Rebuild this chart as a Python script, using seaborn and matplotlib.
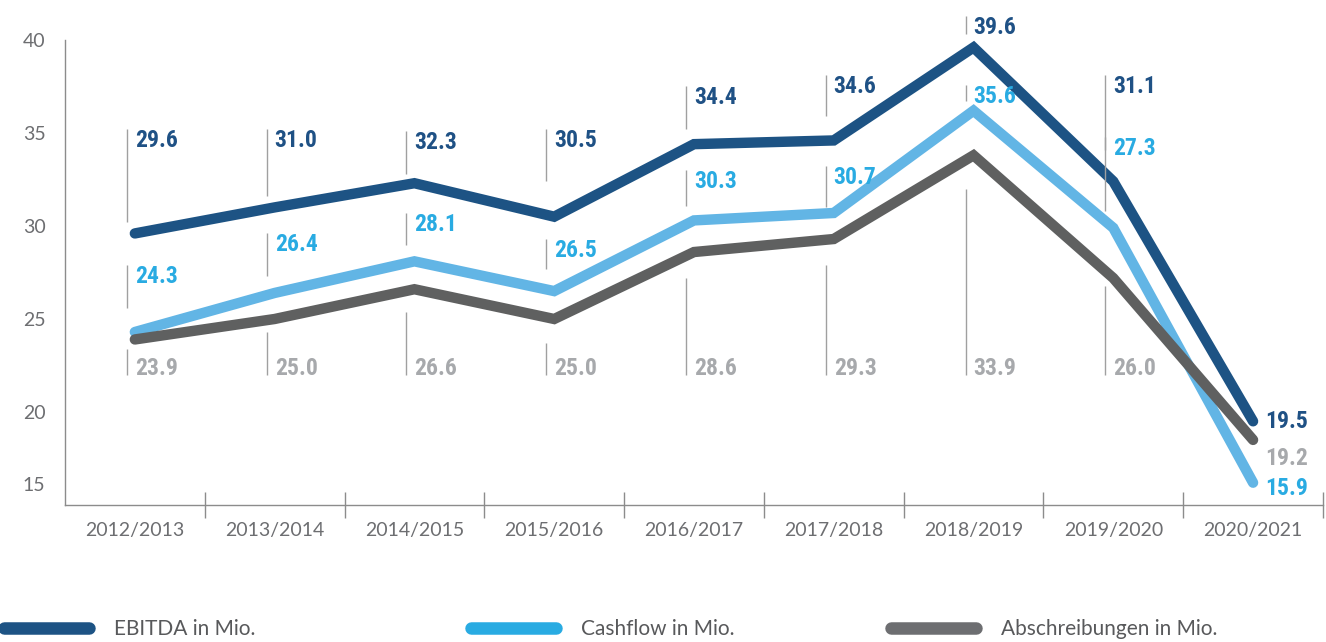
"""EBITDA, Cashflow und Abschreibungen 2012/2013 - 2020/2021."""

import matplotlib.pyplot as plt
import matplotlib.transforms as mtransforms
import pandas as pd
import seaborn as sns
from matplotlib import font_manager
from matplotlib.lines import Line2D

# --- data -------------------------------------------------------------------
years = ["2012/2013", "2013/2014", "2014/2015", "2015/2016", "2016/2017",
         "2017/2018", "2018/2019", "2019/2020", "2020/2021"]
ebitda = [29.6, 31.0, 32.3, 30.5, 34.4, 34.6, 39.6, 32.4, 19.5]
cashflow = [24.3, 26.4, 28.1, 26.5, 30.3, 30.7, 36.2, 29.9, 16.2]
abschreibungen = [23.9, 25.0, 26.6, 25.0, 28.6, 29.3, 33.8, 27.2, 18.5]

ebitda_labels = ["29.6", "31.0", "32.3", "30.5", "34.4", "34.6", "39.6", "31.1", "19.5"]
cashflow_labels = ["24.3", "26.4", "28.1", "26.5", "30.3", "30.7", "35.6", "27.3", "15.9"]
abschreibungen_labels = ["23.9", "25.0", "26.6", "25.0", "28.6", "29.3", "33.9", "26.0", "19.2"]

series_names = ["EBITDA in Mio.", "Cashflow in Mio.", "Abschreibungen in Mio."]
y_ticks = [15, 20, 25, 30, 35, 40]

# --- layout of the value labels (guide line top/bottom, data units) ----------
ebitda_guide_top = [35.2, 35.2, 35.1, 35.2, 37.5, 38.1, 41.3, 38.1, 20.1]
ebitda_guide_bottom = [30.2, 31.6, 32.8, 32.4, 35.2, 35.9, 40.3, 34.1, None]
cashflow_guide_top = [27.9, 29.6, 30.7, 29.3, 33.0, 33.2, 37.6, 34.8, 16.5]
cashflow_guide_bottom = [25.6, 27.3, 29.0, 27.7, 31.1, 31.0, 36.7, 30.8, None]
abschr_guide_top = [23.4, 24.3, 25.4, 23.7, 27.2, 27.9, 32.0, 26.8, None]
abschr_guide_bottom = [22.0, 22.0, 22.0, 22.0, 22.0, 22.0, 22.0, 22.0, 18.1]

LINE_COLORS = ["#1d5384", "#62b5e5", "#5f6060"]
LABEL_COLORS = ["#1f5185", "#29abe2", "#a7a9ac"]
LEGEND_COLORS = ["#1d5384", "#29abe2", "#6d6e71"]
AXIS_GREY = "#8c8c8c"
TEXT_GREY = "#6d6e71"
GUIDE_GREY = "#a0a0a0"

sns.set_theme(style="white")
plt.rcParams["font.family"] = ["Lato", "DejaVu Sans"]

# pick a condensed face for the value labels if one is installed
installed = {f.name for f in font_manager.fontManager.ttflist}
condensed = [n for n in ("Liberation Sans Narrow", "DejaVu Sans Condensed",
                         "Roboto Condensed", "Open Sans Condensed") if n in installed]
VALUE_FONT = condensed[:1] + ["DejaVu Sans"]
VALUE_SIZE = 17 if condensed else 15

df = pd.DataFrame({
    "Jahr": years * 3,
    "Wert": ebitda + cashflow + abschreibungen,
    "Serie": [series_names[0]] * 9 + [series_names[1]] * 9 + [series_names[2]] * 9,
})

fig = plt.figure(figsize=(13.26, 6.42), dpi=100)
ax = fig.add_axes([0.049, 0.2134, 0.9487, 0.7243])

sns.lineplot(data=df, x="Jahr", y="Wert", hue="Serie", palette=LINE_COLORS,
             linewidth=7.5, sort=False, legend=False, ax=ax)
for line in ax.get_lines():
    line.set_solid_capstyle("round")
    line.set_solid_joinstyle("miter")
    line.set_clip_on(False)

ax.set_xlim(-0.5, len(years) - 0.5)
ax.set_ylim(15, 40)
ax.set_xlabel("")
ax.set_ylabel("")

# spines
for side in ("top", "right"):
    ax.spines[side].set_visible(False)
for side in ("left", "bottom"):
    ax.spines[side].set_color(AXIS_GREY)
    ax.spines[side].set_linewidth(1.0)

# y axis: inward ticks, "15" label lifted above the baseline
ax.set_yticks(y_ticks)
ax.set_yticklabels([""] + [str(t) for t in y_ticks[1:]])
ax.tick_params(axis="y", direction="in", length=22, width=1.0, color=AXIS_GREY,
               pad=14, labelsize=14, labelcolor=TEXT_GREY)
ax.annotate("15", xy=(0, 15), xycoords=("axes fraction", "data"), xytext=(-20, 19),
            textcoords="offset pixels", ha="right", va="center",
            fontsize=14, color=TEXT_GREY)

# x axis: labels centred, separators between categories
ax.set_xticks(range(len(years)))
ax.set_xticklabels(years)
ax.set_xticks([i + 0.5 for i in range(len(years))], minor=True)
ax.tick_params(axis="x", which="major", length=0, pad=12, labelsize=14, labelcolor=TEXT_GREY)
ax.tick_params(axis="x", which="minor", direction="inout", length=19, width=1.0,
               color=AXIS_GREY, bottom=True)

# value labels with thin guide lines
guide_shift = mtransforms.ScaledTranslation(-8 / 100, 0, fig.dpi_scale_trans)
text_shift = mtransforms.ScaledTranslation(0, 0, fig.dpi_scale_trans)
end_shift = mtransforms.ScaledTranslation(12 / 100, 0, fig.dpi_scale_trans)
label_sets = [
    (ebitda_labels, ebitda_guide_top, ebitda_guide_bottom, "top"),
    (cashflow_labels, cashflow_guide_top, cashflow_guide_bottom, "top"),
    (abschreibungen_labels, abschr_guide_top, abschr_guide_bottom, "bottom"),
]
for (labels, tops, bottoms, anchor), color in zip(label_sets, LABEL_COLORS):
    for i, (txt, top, bottom) in enumerate(zip(labels, tops, bottoms)):
        last = i == len(years) - 1
        if not last:
            ax.vlines(i, bottom, top, colors=GUIDE_GREY, linewidth=1.0,
                      transform=ax.transData + guide_shift, clip_on=False)
        if last:
            y = top if top is not None else bottom
            va = "top"
            shift = end_shift
        else:
            y = top if anchor == "top" else bottom
            va = "top" if anchor == "top" else "baseline"
            shift = text_shift
        ax.text(i, y, txt, transform=ax.transData + shift, ha="left", va=va,
                fontsize=VALUE_SIZE, fontweight="bold", fontstretch="condensed",
                color=color, family=VALUE_FONT, clip_on=False)

# legend row at the bottom
legend_x = [0.003, 0.355, 0.672]
for name, color, x0 in zip(series_names, LEGEND_COLORS, legend_x):
    handle = Line2D([], [], color=color, linewidth=9, solid_capstyle="round")
    leg = fig.legend(handles=[handle], labels=[name], loc="center left",
                     bbox_to_anchor=(x0, 0.02), frameon=False, fontsize=15,
                     handlelength=4.1, handletextpad=1.2, borderpad=0, borderaxespad=0)
    for t in leg.get_texts():
        t.set_color("#58595b")

fig.savefig("out.png", dpi=100)
